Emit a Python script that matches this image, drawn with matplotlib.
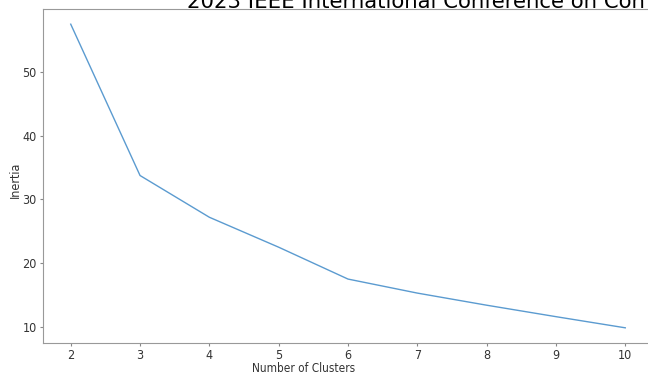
import matplotlib
matplotlib.use("Agg")
import matplotlib.pyplot as plt

clusters = [2, 3, 4, 5, 6, 7, 8, 9, 10]
inertia = [57.5, 33.75, 27.2, 22.5, 17.5, 15.3, 13.4, 11.6, 9.85]

fig = plt.figure(figsize=(6.48, 3.76), dpi=100)
ax = fig.add_axes([43 / 648, 1 - 343 / 376, 610 / 648, 334 / 376])
ax.plot(clusters, inertia, color="#5b9bd0", linewidth=1.0)

# screenshot is squeezed sideways -> condensed DejaVu
ax.set_xlabel("Number of Clusters", fontsize=8.5, fontstretch="condensed", color="#333333")
ax.set_ylabel("Inertia", fontsize=9, fontstretch="condensed", color="#333333")
ax.xaxis.set_label_coords(0.427, -0.058)
ax.yaxis.set_label_coords(-0.034, 0.488)
ax.tick_params(labelsize=9, color="#888888", labelcolor="#333333", length=2, pad=2.5)
for lab in ax.get_xticklabels() + ax.get_yticklabels():
    lab.set_fontstretch("condensed")
for s in ax.spines.values():
    s.set_color("#999999")

fig.text(187 / 648, 1 - 8.5 / 376, "2023 IEEE International Conference on Con",
         fontsize=15.3, va="baseline", ha="left")

fig.savefig("out.png", dpi=100)
